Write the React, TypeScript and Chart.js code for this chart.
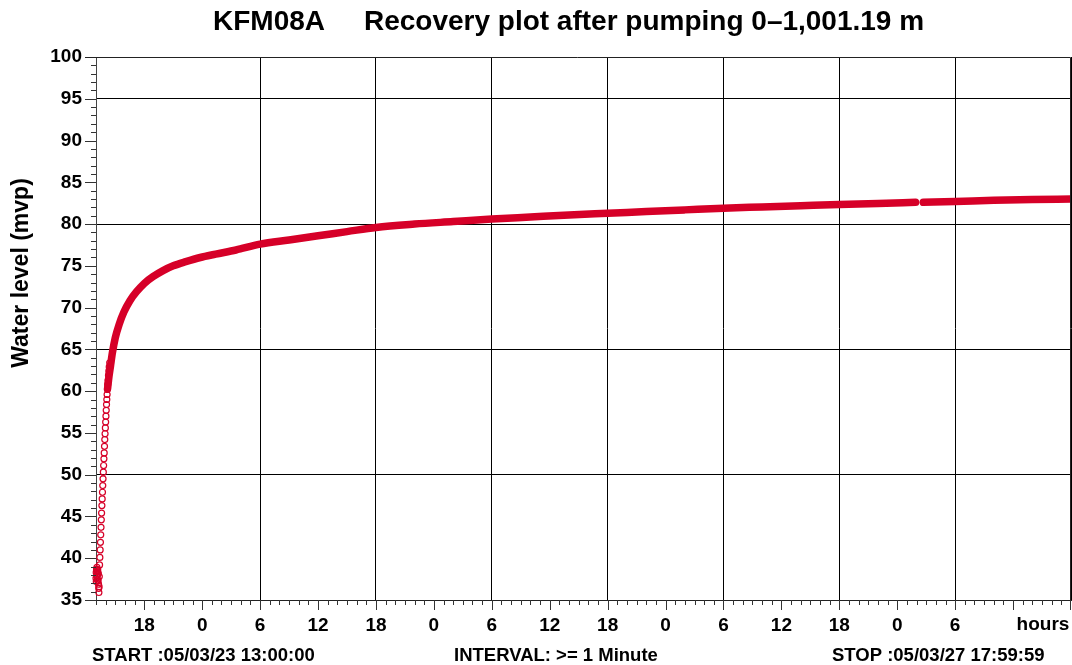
import React, { useEffect, useRef } from 'react';
import { Chart, registerables } from 'chart.js';

Chart.register(...registerables);

// ---- Data (hours since START 05/03/23 13:00:00, water level in mvp) ----
const START_HOUR_OF_DAY = 13;
const X_MIN_HOURS = 0;
const X_MAX_HOURS = 101;
const Y_MIN = 35;
const Y_MAX = 100;

// individual early readings (open circles, fast recovery)
const earlyHours = [
  0.0, 0.02, 0.03, 0.05, 0.07, 0.09, 0.1, 0.12, 0.14, 0.16, 0.18, 0.2, 0.22, 0.24,
  0.26, 0.28, 0.3, 0.32, 0.34,
  0.37, 0.4, 0.43, 0.46, 0.49, 0.52, 0.55, 0.58, 0.61, 0.64, 0.67, 0.7, 0.73,
  0.76, 0.79, 0.82, 0.85, 0.88, 0.91, 0.94, 0.97, 1.0, 1.03, 1.06, 1.09, 1.12,
  1.15, 1.18, 1.21, 1.25, 1.29, 1.33, 1.37, 1.42,
];
const earlyLevels = [
  37.6, 38.3, 37.2, 38.7, 37.9, 38.4, 38.9, 37.7, 38.5, 37.4, 38.6, 38.1, 37.3,
  38.2, 36.9, 36.4, 35.9, 36.6, 37.8,
  39.2, 40.1, 41.0, 41.9, 42.8, 43.7, 44.6, 45.4, 46.3, 47.1, 47.9, 48.7, 49.5,
  50.3, 51.1, 51.9, 52.6, 53.4, 54.2, 54.9, 55.6, 56.3, 57.0, 57.7, 58.4, 59.0,
  59.6, 60.2, 60.8, 61.3, 61.9, 62.4, 62.9, 63.4,
];

// dense recovery band (null marks the short logging gap)
const recoveryHours = [
  1.2, 1.35, 1.5, 1.7, 2.0, 2.4, 2.9, 3.5, 4.2, 5.0, 5.9, 6.9, 8.0, 9.3, 10.8,
  12.4, 14.5, 17.0, 20.0, 23.0, 26.0, 29.0, 33.0, 37.0, 41.0, 45.0, 49.0, 53.0,
  57.0, 61.0, 65.0, 69.0, 73.0, 77.0, 81.0, 84.9, 85.3, 85.7, 89.0, 93.0, 97.0,
  101.0,
];
const recoveryLevels: (number | null)[] = [
  60.3, 61.8, 63.0, 64.6, 66.4, 68.0, 69.5, 70.8, 71.9, 72.9, 73.7, 74.4, 75.0,
  75.5, 76.0, 76.4, 76.9, 77.6, 78.1, 78.6, 79.1, 79.6, 80.0, 80.3, 80.6, 80.85,
  81.1, 81.3, 81.5, 81.7, 81.9, 82.05, 82.2, 82.35, 82.45, 82.6, null, 82.6,
  82.7, 82.85, 82.95, 83.0,
];

const Y_GRID_LEVELS = [50, 65, 80, 95];
const X_GRID_HOURS_OF_DAY = [6, 18];
const X_GRID_FIRST_HOUR = 12;
const X_LABEL_HOURS_OF_DAY = [0, 6, 12, 18];
const X_LABEL_LAST_HOUR = 89;

const TITLE_TEXT = 'KFM08A     Recovery plot after pumping 0–1,001.19 m';
const Y_TITLE = 'Water level (mvp)';
const X_UNIT_LABEL = 'hours';
const FOOTER_START = 'START :05/03/23 13:00:00';
const FOOTER_INTERVAL = 'INTERVAL: >= 1 Minute';
const FOOTER_STOP = 'STOP :05/03/27 17:59:59';

const RED = 'rgb(214, 0, 40)';
const FONT = "'Liberation Sans', Arial, sans-serif";

const decorPlugin = {
  id: 'decor',
  afterDraw(chart: any) {
    const { ctx, chartArea: a, scales } = chart;
    const xs = scales.x;
    const ys = scales.y;
    ctx.save();
    // tick marks
    ctx.strokeStyle = '#333';
    ctx.lineWidth = 1;
    ctx.beginPath();
    for (let v = Y_MIN; v <= Y_MAX; v++) {
      const py = Math.round(ys.getPixelForValue(v)) + 0.5;
      const len = v % 5 === 0 ? 11 : 5;
      ctx.moveTo(a.left - len, py);
      ctx.lineTo(a.left, py);
    }
    for (let h = X_MIN_HOURS; h <= X_MAX_HOURS; h++) {
      const px = Math.min(Math.round(xs.getPixelForValue(h)) + 0.5, Math.round(a.right) - 0.5);
      const hod = (START_HOUR_OF_DAY + h) % 24;
      const len = hod % 6 === 0 ? 10 : 5;
      ctx.moveTo(px, a.bottom);
      ctx.lineTo(px, a.bottom + len);
    }
    ctx.stroke();
    // frame top & right
    ctx.strokeStyle = '#222';
    ctx.beginPath();
    const top = Math.round(a.top) + 0.5;
    const right = Math.round(a.right) - 0.5;
    ctx.moveTo(a.left - 11, top);
    ctx.lineTo(right, top);
    ctx.moveTo(right, top);
    ctx.lineTo(right, a.bottom);
    ctx.stroke();

    ctx.fillStyle = '#000';
    // title
    ctx.font = `bold 28px ${FONT}`;
    ctx.textAlign = 'left';
    ctx.textBaseline = 'middle';
    ctx.fillText(TITLE_TEXT, 213, 22);
    // unit label
    ctx.font = `bold 19px ${FONT}`;
    ctx.textAlign = 'center';
    ctx.fillText(X_UNIT_LABEL, 1043, 625);
    // footer
    ctx.font = `bold 18.5px ${FONT}`;
    ctx.textAlign = 'left';
    ctx.fillText(FOOTER_START, 92, 656);
    ctx.fillText(FOOTER_INTERVAL, 454, 656);
    ctx.fillText(FOOTER_STOP, 832, 656);
    // y title
    ctx.translate(22, 273);
    ctx.rotate(-Math.PI / 2);
    ctx.font = `bold 23px ${FONT}`;
    ctx.textAlign = 'center';
    ctx.fillText(Y_TITLE, 0, 0);
    ctx.restore();
  },
};

export default function App() {
  const ref = useRef<HTMLCanvasElement | null>(null);

  useEffect(() => {
    if (!ref.current) return;
    const early = earlyHours.map((h, i) => ({ x: h, y: earlyLevels[i] }));
    const band = recoveryHours.map((h, i) => ({ x: h, y: recoveryLevels[i] }));
    const chart = new Chart(ref.current, {
      type: 'scatter',
      data: {
        datasets: [
          {
            data: early,
            showLine: false,
            pointRadius: 3,
            pointBorderWidth: 1.2,
            pointBorderColor: RED,
            pointBackgroundColor: 'rgba(0,0,0,0)',
            clip: false as any,
          },
          {
            data: band as any,
            showLine: true,
            spanGaps: false,
            borderColor: RED,
            borderWidth: 7.5,
            borderCapStyle: 'round',
            borderJoinStyle: 'round',
            cubicInterpolationMode: 'monotone',
            pointRadius: 0,
            pointHoverRadius: 0,
          },
        ],
      },
      options: {
        animation: false,
        responsive: false,
        devicePixelRatio: 1,
        events: [],
        layout: { autoPadding: false, padding: { top: 57, right: 1, left: 0, bottom: 0 } },
        plugins: {
          legend: { display: false },
          tooltip: { enabled: false },
          title: { display: false },
        },
        scales: {
          x: {
            type: 'linear',
            min: X_MIN_HOURS,
            max: X_MAX_HOURS,
            afterFit: (s: any) => {
              s.height = 65;
              s.paddingLeft = 0;
              s.paddingRight = 0;
            },
            border: { display: true, color: '#222', width: 1 },
            grid: {
              drawTicks: false,
              lineWidth: 1,
              color: (c: any) => {
                const v = c.tick ? c.tick.value : -1;
                const hod = (START_HOUR_OF_DAY + v) % 24;
                return X_GRID_HOURS_OF_DAY.includes(hod) && v >= X_GRID_FIRST_HOUR
                  ? '#000'
                  : 'rgba(0,0,0,0)';
              },
            },
            ticks: {
              stepSize: 1,
              autoSkip: false,
              maxRotation: 0,
              minRotation: 0,
              padding: 14,
              color: '#000',
              font: { family: FONT, size: 19, weight: 'bold' },
              callback: (value: any) => {
                const v = Number(value);
                if (v > X_LABEL_LAST_HOUR) return '';
                const hod = (START_HOUR_OF_DAY + v) % 24;
                return X_LABEL_HOURS_OF_DAY.includes(hod) ? String(hod) : '';
              },
            },
          },
          y: {
            type: 'linear',
            min: Y_MIN,
            max: Y_MAX,
            afterFit: (s: any) => {
              s.width = 96;
            },
            border: { display: true, color: '#444', width: 1 },
            grid: {
              drawTicks: false,
              lineWidth: 1,
              color: (c: any) =>
                c.tick && Y_GRID_LEVELS.includes(c.tick.value)
                  ? '#000'
                  : 'rgba(0,0,0,0)',
            },
            ticks: {
              stepSize: 1,
              autoSkip: false,
              padding: 14,
              color: '#000',
              font: { family: FONT, size: 19, weight: 'bold' },
              callback: (value: any) =>
                Number(value) % 5 === 0 ? String(value) : '',
            },
          },
        },
      },
      plugins: [decorPlugin],
    });
    return () => chart.destroy();
  }, []);

  return (
    <div style={{ position: 'fixed', left: 0, top: 0, width: 1072, height: 665, background: '#fff' }}>
      <canvas ref={ref} width={1072} height={665} style={{ display: 'block' }} />
    </div>
  );
}
